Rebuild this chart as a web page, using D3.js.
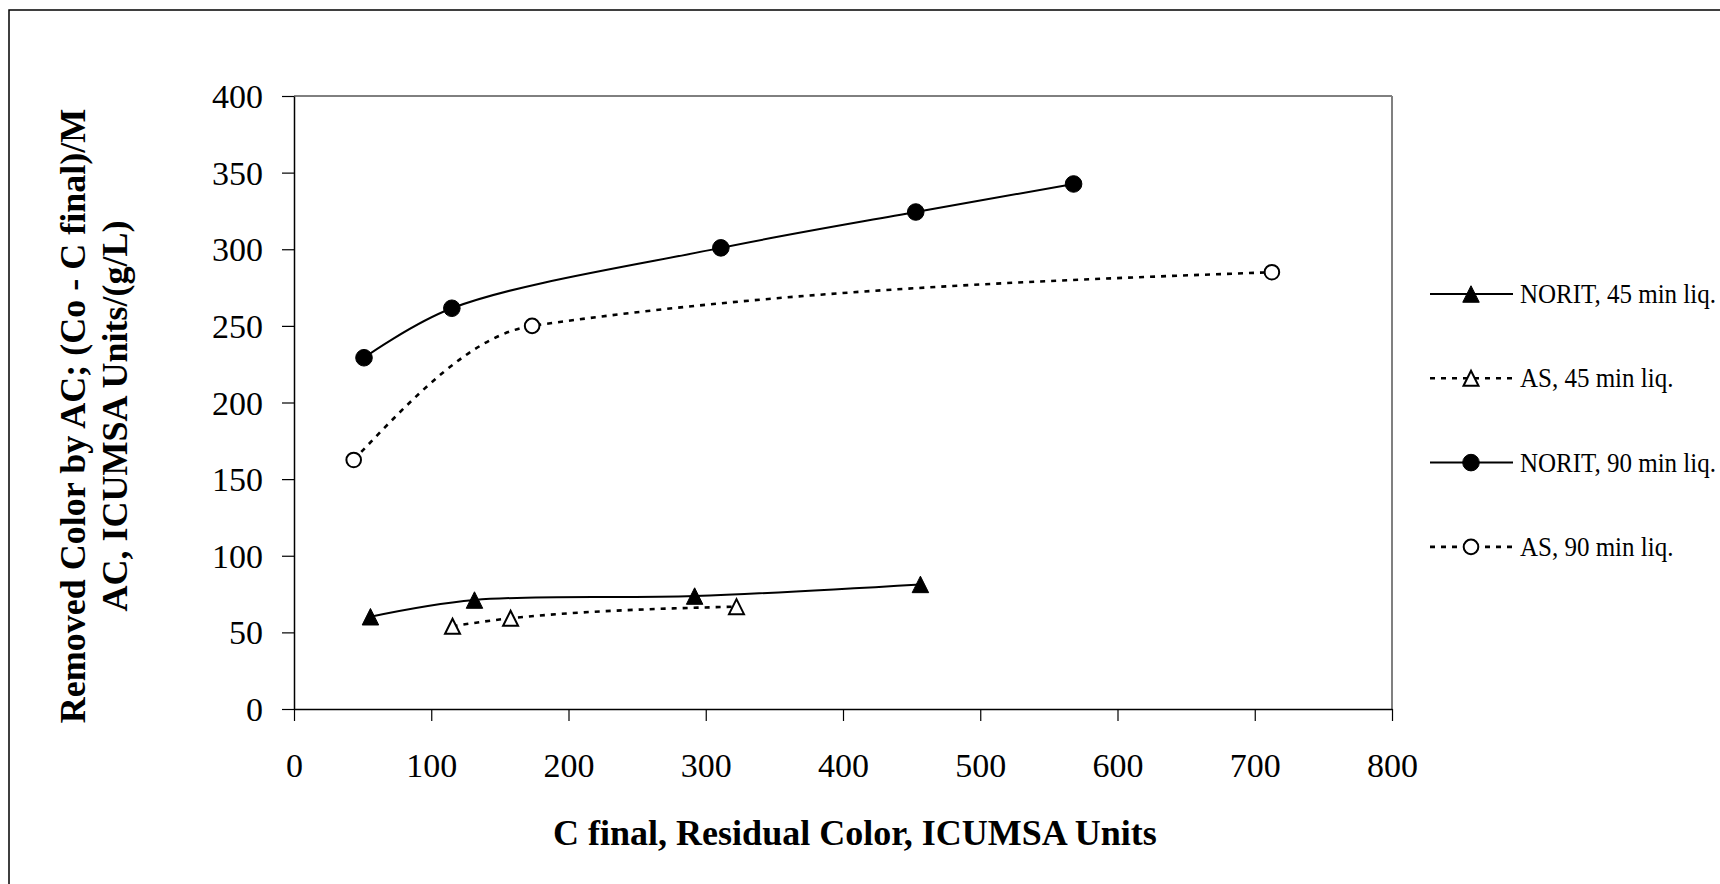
<!DOCTYPE html>
<html lang="en">
<head>
<meta charset="utf-8">
<title>Removed color vs residual color</title>
<script src="https://cdn.jsdelivr.net/npm/d3@7"></script>
<style>
  body { margin: 0; background: #fff; }
  text { font-family: "Liberation Serif", "Times New Roman", serif; fill: #000; }
</style>
</head>
<body>
<script>
// values
var noritX45 = [55.7, 131.5, 291.9, 456.4],
    noritY45 = [60.2, 71.1, 73.7, 81.3];
var asX45 = [115.5, 157.8, 322.4],
    asY45 = [54.0, 59.2, 66.8];
var noritX90 = [51, 115, 311, 453, 568],
    noritY90 = [229.2, 261.5, 300.9, 324.3, 342.6];
var asX90 = [43.5, 173.5, 712.5],
    asY90 = [162.5, 250, 285];
var xTicks = [0, 100, 200, 300, 400, 500, 600, 700, 800];
var yTicks = [0, 50, 100, 150, 200, 250, 300, 350, 400];
var seriesNames = ["NORIT, 45 min liq.", "AS, 45 min liq.", "NORIT, 90 min liq.", "AS, 90 min liq."];

var width = 1720, height = 884;
var m = {left: 294, right: 1392, top: 96, bottom: 709};

var svg = d3.select("body").append("svg")
    .attr("width", width)
    .attr("height", height);

// outer frame (runs off the right and bottom edges)
svg.append("rect")
    .attr("x", 9).attr("y", 10)
    .attr("width", width + 20).attr("height", height + 20)
    .attr("fill", "none").attr("stroke", "#000").attr("stroke-width", 1.5);

var x = d3.scaleLinear().domain([0, 800]).range([m.left, m.right]);
var y = d3.scaleLinear().domain([0, 400]).range([m.bottom, m.top]);

// plot area border
svg.append("line").attr("x1", m.left).attr("x2", m.right).attr("y1", m.top).attr("y2", m.top)
    .attr("stroke", "#000").attr("stroke-width", 1);
svg.append("line").attr("x1", m.right).attr("x2", m.right).attr("y1", m.top).attr("y2", m.bottom)
    .attr("stroke", "#808080").attr("stroke-width", 2);

// axes
var xAxis = svg.append("g")
    .attr("transform", "translate(0," + m.bottom + ")")
    .call(d3.axisBottom(x).tickValues(xTicks).tickSize(12).tickPadding(20).tickSizeOuter(0));
var yAxis = svg.append("g")
    .attr("transform", "translate(" + m.left + ",0)")
    .call(d3.axisLeft(y).tickValues(yTicks).tickSize(12).tickPadding(19).tickSizeOuter(0));

[xAxis, yAxis].forEach(function (g) {
  g.select(".domain").attr("stroke", "#000").attr("stroke-width", 1.5);
  g.selectAll(".tick line").attr("stroke", "#000").attr("stroke-width", 1.2);
  g.selectAll("text")
      .attr("fill", "#000")
      .style("font-family", '"Liberation Serif", "Times New Roman", serif')
      .style("font-size", "34px");
});
xAxis.selectAll("text").attr("dy", null).attr("y", 68);
yAxis.selectAll("text").attr("dy", "0.34em");

// axis titles
svg.append("text")
    .attr("x", 855).attr("y", 845)
    .attr("text-anchor", "middle")
    .style("font-size", "36px").style("font-weight", "bold")
    .text("C final, Residual Color, ICUMSA Units");

var yTitle = svg.append("text")
    .attr("transform", "translate(0,416) rotate(-90)")
    .attr("text-anchor", "middle")
    .style("font-size", "36px").style("font-weight", "bold");
yTitle.append("tspan").attr("x", 0).attr("y", 85).text("Removed Color by AC; (Co - C final)/M");
yTitle.append("tspan").attr("x", 0).attr("y", 127).text("AC, ICUMSA Units/(g/L)");

// custom tall triangle marker
var tallTriangle = {
  draw: function (ctx, size) {
    var h = Math.sqrt(size), w = h * 0.5;
    ctx.moveTo(0, -h / 2);
    ctx.lineTo(w, h / 2);
    ctx.lineTo(-w, h / 2);
    ctx.closePath();
  }
};

var series = [
  { name: seriesNames[0], xs: noritX45, ys: noritY45, dash: null, shape: tallTriangle, size: 16.5 * 16.5, fill: "#000", curve: d3.curveCatmullRom.alpha(0.5) },
  { name: seriesNames[1], xs: asX45, ys: asY45, dash: "5,6", shape: tallTriangle, size: 15 * 15, fill: "#fff", curve: d3.curveMonotoneX },
  { name: seriesNames[2], xs: noritX90, ys: noritY90, dash: null, shape: d3.symbolCircle, size: Math.PI * 8.3 * 8.3, fill: "#000", curve: d3.curveCatmullRom.alpha(0.5) },
  { name: seriesNames[3], xs: asX90, ys: asY90, dash: "5,6", shape: d3.symbolCircle, size: Math.PI * 7.3 * 7.3, fill: "#fff", curve: d3.curveMonotoneX }
];

series.forEach(function (s) {
  var pts = s.xs.map(function (v, i) { return [v, s.ys[i]]; });
  var line = d3.line()
      .x(function (d) { return x(d[0]); })
      .y(function (d) { return y(d[1]); })
      .curve(s.curve);
  svg.append("path")
      .attr("d", line(pts))
      .attr("fill", "none")
      .attr("stroke", "#000")
      .attr("stroke-width", s.dash ? 2.6 : 2)
      .attr("stroke-dasharray", s.dash);
  svg.append("g").selectAll("path")
      .data(pts)
      .enter()
      .append("path")
      .attr("transform", function (d) { return "translate(" + x(d[0]) + "," + y(d[1]) + ")"; })
      .attr("d", d3.symbol().type(s.shape).size(s.size))
      .attr("fill", s.fill)
      .attr("stroke", "#000")
      .attr("stroke-width", s.fill === "#fff" ? 2 : 1);
});

// legend
var legend = svg.append("g").selectAll("g")
    .data(series)
    .enter()
    .append("g")
    .attr("transform", function (d, i) { return "translate(1430," + (294 + i * 84.3) + ")"; });

legend.append("line")
    .attr("x1", 0).attr("x2", 83)
    .attr("stroke", "#000")
    .attr("stroke-width", function (d) { return d.dash ? 2.6 : 2; })
    .attr("stroke-dasharray", function (d) { return d.dash; });
legend.append("path")
    .attr("transform", "translate(41,0)")
    .attr("d", function (d) { return d3.symbol().type(d.shape).size(d.size)(); })
    .attr("fill", function (d) { return d.fill; })
    .attr("stroke", "#000")
    .attr("stroke-width", function (d) { return d.fill === "#fff" ? 2 : 1; });
legend.append("text")
    .attr("x", 90)
    .attr("transform", "scale(1,1.1)")
    .attr("y", 9 / 1.1)
    .style("font-size", "25px")
    .text(function (d) { return d.name; });
</script>
</body>
</html>
